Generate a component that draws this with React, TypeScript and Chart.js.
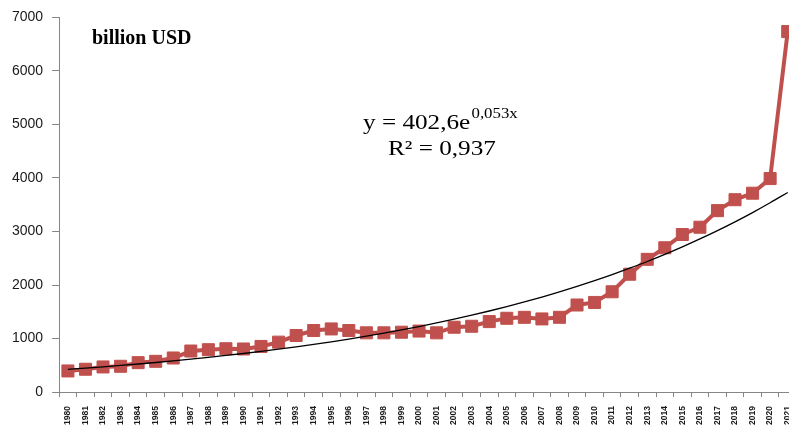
import React, { useEffect, useRef } from "react";
import { Chart, registerables } from "chart.js";

Chart.register(...registerables);

const YEARS = [
  "1980", "1981", "1982", "1983", "1984", "1985", "1986", "1987", "1988", "1989",
  "1990", "1991", "1992", "1993", "1994", "1995", "1996", "1997", "1998", "1999",
  "2000", "2001", "2002", "2003", "2004", "2005", "2006", "2007", "2008", "2009",
  "2010", "2011", "2012", "2013", "2014", "2015", "2016", "2017", "2018", "2019",
  "2020", "2021",
];

const VALUES = [
  395, 427, 470, 482, 550, 575, 637, 767, 792, 810,
  805, 853, 933, 1057, 1150, 1180, 1150, 1107, 1107, 1119,
  1140, 1107, 1212, 1230, 1317, 1379, 1397, 1367, 1397, 1627,
  1675, 1874, 2202, 2480, 2696, 2944, 3080, 3390, 3594, 3716,
  3989, 6735,
];

const TREND = [
  425, 448, 472, 498, 525, 553, 583, 615, 649, 684,
  721, 760, 802, 846, 892, 940, 991, 1045, 1102, 1162,
  1225, 1292, 1362, 1436, 1515, 1597, 1684, 1776, 1872, 1974,
  2082, 2195, 2315, 2440, 2573, 2713, 2861, 3017, 3181, 3354,
  3537, 3729,
];

const Y_MIN = 0;
const Y_MAX = 7000;
const Y_STEP = 1000;

const UNIT_LABEL = "billion USD";
const EQ_MAIN = "y = 402,6e";
const EQ_EXP = "0,053x";
const EQ_R2 = "R\u00B2 = 0,937";

const RED = "#C0504D";
const AXIS = "#868686";
const TEXT = "#1a1a1a";

const annotationPlugin = {
  id: "annotations",
  afterDraw(chart: any) {
    const ctx = chart.ctx as CanvasRenderingContext2D;
    ctx.save();
    ctx.fillStyle = "#000";
    ctx.textBaseline = "alphabetic";
    ctx.textAlign = "left";

    ctx.font = "bold 20px 'Liberation Serif'";
    ctx.fillText(UNIT_LABEL, 92, 44);

    const sx = 1.2;
    ctx.save();
    ctx.translate(363, 129);
    ctx.scale(sx, 1);
    ctx.font = "21px 'Liberation Serif'";
    ctx.fillText(EQ_MAIN, 0, 0);
    const w = ctx.measureText(EQ_MAIN).width;
    ctx.font = "14px 'Liberation Serif'";
    ctx.fillText(EQ_EXP, w + 1, -11);
    ctx.restore();

    ctx.save();
    ctx.translate(388, 155);
    ctx.scale(sx, 1);
    ctx.font = "21px 'Liberation Serif'";
    ctx.fillText(EQ_R2, 0, 0);
    ctx.restore();

    ctx.restore();
  },
};

export default function App() {
  const ref = useRef<HTMLCanvasElement | null>(null);

  useEffect(() => {
    if (!ref.current) return;
    const chart = new Chart(ref.current, {
      type: "line",
      data: {
        labels: YEARS,
        datasets: [
          {
            label: "Trend",
            data: TREND,
            borderColor: "#000",
            borderWidth: 1.3,
            pointRadius: 0,
            fill: false,
            cubicInterpolationMode: "monotone",
            order: 0,
          },
          {
            label: "Value",
            data: VALUES,
            borderColor: RED,
            backgroundColor: RED,
            borderWidth: 4,
            pointStyle: "rect",
            pointRadius: 8.5,
            pointBorderWidth: 1,
            pointBackgroundColor: RED,
            pointBorderColor: RED,
            fill: false,
            tension: 0,
            order: 1,
          },
        ],
      },
      options: {
        responsive: false,
        maintainAspectRatio: false,
        devicePixelRatio: 1,
        animation: false,
        layout: { padding: { left: 3, right: 4, top: 8, bottom: 6 } },
        plugins: {
          legend: { display: false },
          tooltip: { enabled: false },
        },
        scales: {
          x: {
            offset: true,
            grid: {
              display: true,
              drawOnChartArea: false,
              drawTicks: true,
              tickLength: 5,
              offset: true,
              color: AXIS,
            },
            border: { color: AXIS, width: 1 },
            ticks: {
              autoSkip: false,
              maxRotation: 90,
              minRotation: 90,
              padding: 9,
              color: TEXT,
              font: { family: "'Liberation Sans'", size: 8.5, weight: "bold" },
            },
          },
          y: {
            min: Y_MIN,
            max: Y_MAX,
            grid: {
              display: true,
              drawOnChartArea: false,
              drawTicks: true,
              tickLength: 7,
              color: AXIS,
            },
            border: { color: AXIS, width: 1 },
            ticks: {
              stepSize: Y_STEP,
              padding: 9,
              color: TEXT,
              font: { family: "'Liberation Sans'", size: 14 },
              callback: (v: any) => String(v),
            },
          },
        },
      },
      plugins: [annotationPlugin],
    });
    return () => chart.destroy();
  }, []);

  return (
    <div
      style={{
        position: "absolute",
        left: 0,
        top: 0,
        width: 789,
        height: 430,
        overflow: "hidden",
        background: "#fff",
      }}
    >
      <canvas ref={ref} width={807} height={440} style={{ display: "block" }} />
    </div>
  );
}
